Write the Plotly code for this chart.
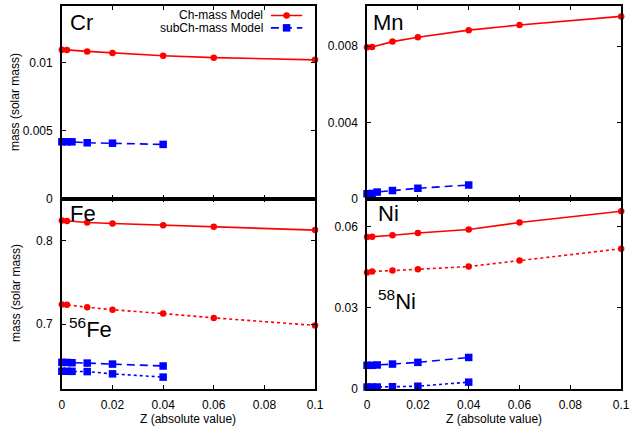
import plotly.graph_objects as go

# Metallicity grids of the two model sets
z_ch = [0, 0.002, 0.01, 0.02, 0.04, 0.06, 0.1]
z_sub = [0, 0.002, 0.004, 0.01, 0.02, 0.04]

# Ejected masses (solar masses)
cr_ch = [0.01094, 0.01093, 0.01082, 0.01070, 0.01050, 0.01036, 0.01020]
cr_sub = [0.00418, 0.00418, 0.00418, 0.00411, 0.00408, 0.00399]

mn_ch = [0.00793, 0.00795, 0.00823, 0.00846, 0.00883, 0.00910, 0.00955]
mn_sub = [0.00026, 0.00028, 0.00035, 0.00043, 0.00055, 0.00072]

fe_ch = [0.8239, 0.8235, 0.8215, 0.8204, 0.8184, 0.8165, 0.8125]
fe56_ch = [0.7235, 0.7231, 0.7200, 0.7172, 0.7125, 0.7074, 0.6984]
fe_sub = [0.6541, 0.6541, 0.6537, 0.6533, 0.6521, 0.6498]
fe56_sub = [0.6435, 0.6435, 0.6434, 0.6431, 0.6404, 0.6365]

ni_ch = [0.0561, 0.0562, 0.0568, 0.0576, 0.0589, 0.0615, 0.0657]
ni58_ch = [0.0430, 0.0434, 0.0437, 0.0442, 0.0452, 0.0474, 0.0518]
ni_sub = [0.00864, 0.00864, 0.00876, 0.00910, 0.00973, 0.01155]
ni58_sub = [0.0006, 0.0006, 0.0006, 0.0007, 0.0009, 0.0024]

# Tick values / labels
x_ticks = [0, 0.02, 0.04, 0.06, 0.08, 0.1]
x_ticktext = ["0", "0.02", "0.04", "0.06", "0.08", "0.1"]
cr_ticks = [0, 0.005, 0.01]
cr_ticktext = ["0", "0.005", "0.01"]
mn_ticks = [0, 0.004, 0.008]
mn_ticktext = ["0", "0.004", "0.008"]
fe_ticks = [0.7, 0.8]
fe_ticktext = ["0.7", "0.8"]
ni_ticks = [0, 0.03, 0.06]
ni_ticktext = ["0", "0.03", "0.06"]

W, H = 640, 435
FONT = "Liberation Sans, Arial, Helvetica, sans-serif"
RED = "#ff0000"
BLUE = "#0000ff"


def px_x(a, b):
    return [a / W, b / W]


def px_y(top, bottom):
    return [1 - bottom / H, 1 - top / H]


fig = go.Figure()


def ch_trace(x, y, ax, dash="solid"):
    fig.add_trace(go.Scatter(
        x=x, y=y, xaxis="x" + ax, yaxis="y" + ax, mode="lines+markers",
        line=dict(color=RED, width=1.6, dash=dash),
        marker=dict(symbol="circle", size=6.5, color=RED),
        cliponaxis=False, showlegend=False))


def sub_trace(x, y, ax, dash="8px,5px"):
    fig.add_trace(go.Scatter(
        x=x, y=y, xaxis="x" + ax, yaxis="y" + ax, mode="lines+markers",
        line=dict(color=BLUE, width=1.6, dash=dash),
        marker=dict(symbol="square", size=7.5, color=BLUE),
        cliponaxis=False, showlegend=False))


ch_trace(z_ch, cr_ch, "")
sub_trace(z_sub, cr_sub, "")
ch_trace(z_ch, mn_ch, "2")
sub_trace(z_sub, mn_sub, "2")
ch_trace(z_ch, fe_ch, "3")
ch_trace(z_ch, fe56_ch, "3", dash="dot")
sub_trace(z_sub, fe_sub, "3")
sub_trace(z_sub, fe56_sub, "3", dash="dot")
ch_trace(z_ch, ni_ch, "4")
ch_trace(z_ch, ni58_ch, "4", dash="dot")
sub_trace(z_sub, ni_sub, "4")
sub_trace(z_sub, ni58_sub, "4", dash="dot")

# Key samples, drawn on a small axis pair measured in pixels
fig.add_trace(go.Scatter(x=[273, 305], y=[15.7, 15.7], xaxis="x5", yaxis="y5",
                         mode="lines", line=dict(color=RED, width=1.6),
                         showlegend=False, hoverinfo="skip", cliponaxis=False))
fig.add_trace(go.Scatter(x=[289], y=[15.7], xaxis="x5", yaxis="y5", mode="markers",
                         marker=dict(symbol="circle", size=6.5, color=RED),
                         showlegend=False, hoverinfo="skip", cliponaxis=False))
fig.add_trace(go.Scatter(x=[273, 305], y=[28.3, 28.3], xaxis="x5", yaxis="y5",
                         mode="lines", line=dict(color=BLUE, width=1.6, dash="8px,5px"),
                         showlegend=False, hoverinfo="skip", cliponaxis=False))
fig.add_trace(go.Scatter(x=[289], y=[28.3], xaxis="x5", yaxis="y5", mode="markers",
                         marker=dict(symbol="square", size=7.5, color=BLUE),
                         showlegend=False, hoverinfo="skip", cliponaxis=False))

common = dict(showline=True, linecolor="black", linewidth=1.5, mirror="ticks",
              ticks="inside", ticklen=4, tickwidth=1, tickcolor="black",
              showgrid=False, zeroline=False,
              tickfont=dict(family=FONT, size=12, color="black"))

left_x = px_x(60, 318)
right_x = px_x(371, 630)
top_y = px_y(6, 202)
bot_y = px_y(202, 395)

fig.update_layout(
    width=W, height=H, margin=dict(l=0, r=0, t=0, b=0),
    paper_bgcolor="white", plot_bgcolor="white",
    xaxis=dict(domain=left_x, anchor="y", range=[0, 0.1], tickvals=x_ticks,
               ticktext=x_ticktext, showticklabels=False, **common),
    yaxis=dict(domain=top_y, anchor="x", range=[0, 0.01416], tickvals=cr_ticks,
               ticktext=cr_ticktext, ticklabelstandoff=5, **common),
    xaxis2=dict(domain=right_x, anchor="y2", range=[0, 0.1], tickvals=x_ticks,
                ticktext=x_ticktext, showticklabels=False, **common),
    yaxis2=dict(domain=top_y, anchor="x2", range=[0, 0.0101], tickvals=mn_ticks,
                ticktext=mn_ticktext, ticklabelstandoff=5, **common),
    xaxis3=dict(domain=left_x, anchor="y3", range=[0, 0.1], tickvals=x_ticks,
                ticktext=x_ticktext, ticklabelstandoff=4, **common),
    yaxis3=dict(domain=bot_y, anchor="x3", range=[0.6227, 0.85], tickvals=fe_ticks,
                ticktext=fe_ticktext, ticklabelstandoff=5, **common),
    xaxis4=dict(domain=right_x, anchor="y4", range=[0, 0.1], tickvals=x_ticks,
                ticktext=x_ticktext, ticklabelstandoff=4, **common),
    yaxis4=dict(domain=bot_y, anchor="x4", range=[0, 0.0703], tickvals=ni_ticks,
                ticktext=ni_ticktext, ticklabelstandoff=5, **common),
    xaxis5=dict(domain=px_x(268, 310), anchor="y5", range=[268, 310], visible=False),
    yaxis5=dict(domain=px_y(9, 35), anchor="x5", range=[35, 9], visible=False),
)


def note(text, x, y, size=12, xanchor="left", angle=0, yanchor="middle"):
    fig.add_annotation(text=text, x=x / W, y=1 - y / H, xref="paper", yref="paper",
                       showarrow=False, xanchor=xanchor, yanchor=yanchor,
                       textangle=angle, font=dict(family=FONT, size=size, color="black"))


# Element labels
note("Cr", 66, 23, size=22)
note("Mn", 375, 23, size=22)
note("Fe", 66, 217, size=22)
note("Ni", 380, 217, size=22)
note("<sup>56</sup>Fe", 65, 333, size=22)
note("<sup>58</sup>Ni", 380, 305, size=22)

# Key text
note("Ch-mass Model", 267, 15.7, xanchor="right")
note("subCh-mass Model", 267, 28.3, xanchor="right")

# Axis titles
note("mass (solar mass)", 13, 104, xanchor="center", angle=-90)
note("mass (solar mass)", 13, 298, xanchor="center", angle=-90)
note("Z (absolute value)", 189, 417, xanchor="center", yanchor="top")
note("Z (absolute value)", 500, 417, xanchor="center", yanchor="top")

fig.write_html("out.html")
